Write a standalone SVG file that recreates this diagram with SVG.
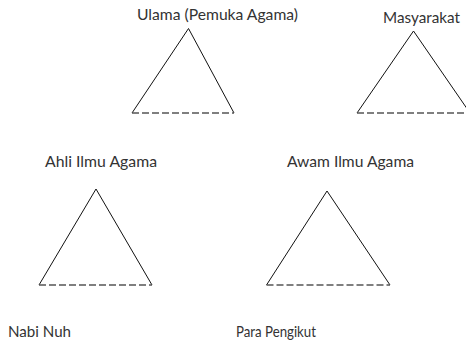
<svg xmlns="http://www.w3.org/2000/svg" width="466" height="343" viewBox="0 0 466 343">
  <style>
    .label { font-family: Lato, "Open Sans", "Liberation Sans", sans-serif; font-size: 15px; fill: #333; }
    .side { fill: none; stroke: #111; stroke-width: 1; stroke-linejoin: miter; }
    .base { fill: none; stroke: #555; stroke-width: 1.3; stroke-dasharray: 7 3; }
  </style>
  <rect width="466" height="343" fill="#fff"/>

  <g id="ulama">
    <text class="label" x="137" y="20" textLength="161" lengthAdjust="spacingAndGlyphs">Ulama (Pemuka Agama)</text>
    <polyline class="side" points="132,113 188.5,28.5 234,113"/>
    <line class="base" x1="132" y1="113" x2="234" y2="113"/>
  </g>

  <g id="masyarakat">
    <text class="label" x="383" y="23" textLength="77" lengthAdjust="spacingAndGlyphs">Masyarakat</text>
    <polyline class="side" points="357,113 413.5,31 470,113"/>
    <line class="base" x1="357" y1="113" x2="470" y2="113"/>
  </g>

  <g id="ahli-ilmu-agama">
    <text class="label" x="45" y="167" textLength="112" lengthAdjust="spacingAndGlyphs">Ahli Ilmu Agama</text>
    <polyline class="side" points="39,285 96,189 152,285"/>
    <line class="base" x1="39" y1="285" x2="152" y2="285"/>
  </g>

  <g id="awam-ilmu-agama">
    <text class="label" x="287" y="167" textLength="127" lengthAdjust="spacingAndGlyphs">Awam Ilmu Agama</text>
    <polyline class="side" points="266.5,285 327,191 390,285"/>
    <line class="base" x1="266.5" y1="285" x2="390" y2="285"/>
  </g>

  <g id="nabi-nuh">
    <text class="label" x="8" y="337" textLength="63" lengthAdjust="spacingAndGlyphs">Nabi Nuh</text>
  </g>

  <g id="para-pengikut">
    <text class="label" x="236" y="337" textLength="80" lengthAdjust="spacingAndGlyphs">Para Pengikut</text>
  </g>

  <g id="connectors"></g>
</svg>
